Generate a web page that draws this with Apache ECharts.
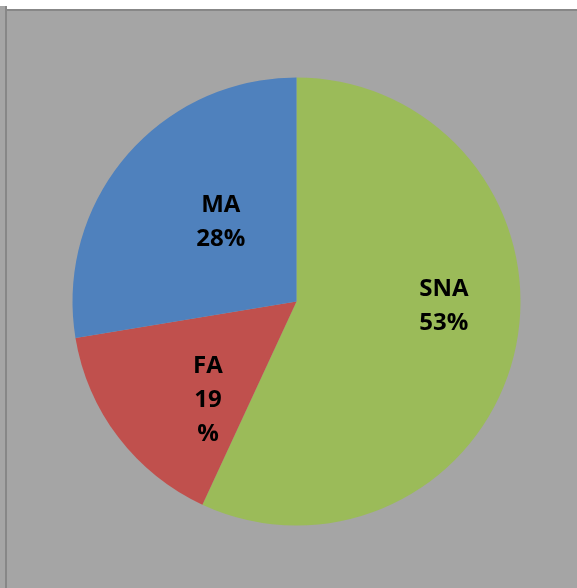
<!DOCTYPE html>
<html>
<head>
<meta charset="utf-8">
<script src="https://cdn.jsdelivr.net/npm/echarts@6/dist/echarts.min.js"></script>
<style>
  html, body { margin: 0; padding: 0; background: #fff; }
  #chart { width: 577px; height: 588px; }
</style>
</head>
<body>
<div id="chart"></div>
<script>
const categories = ["SNA", "FA", "MA"];
const sliceValues = [56.9, 15.5, 27.6];
const labelTexts = ["SNA\n53%", "FA\n19\n%", "MA\n28%"];
const colors = ["#9bbb59", "#c0504d", "#4f81bd"];
const labelOffsets = [[35, -20], [3, 29], [12, -5]];

const chart = echarts.init(document.getElementById("chart"), null, { renderer: "canvas" });

const option = {
  backgroundColor: "#a5a5a5",
  animation: false,
  graphic: [
    // white strip along the top, then the frame lines
    { type: "rect", shape: { x: 0, y: 0, width: 577, height: 6 }, style: { fill: "#fff" }, silent: true },
    { type: "rect", shape: { x: 7, y: 0, width: 570, height: 9 }, style: { fill: "#fff" }, silent: true },
    { type: "rect", shape: { x: 5, y: 6, width: 2, height: 582 }, style: { fill: "#878787" }, silent: true },
    { type: "rect", shape: { x: 5, y: 9, width: 572, height: 2 }, style: { fill: "#878787" }, silent: true },
  ],
  series: [
    {
      type: "pie",
      center: [296.5, 301.5],
      radius: 224,
      startAngle: 90,
      clockwise: true,
      avoidLabelOverlap: false,
      itemStyle: { borderWidth: 0 },
      emphasis: { disabled: true },
      label: {
        show: true,
        position: "inside",
        color: "#000",
        fontFamily: "Open Sans",
        fontWeight: "bold",
        fontSize: 24,
        lineHeight: 34,
        align: "center",
      },
      labelLine: { show: false },
      data: categories.map((name, i) => ({
        name,
        value: sliceValues[i],
        itemStyle: { color: colors[i] },
        label: { formatter: labelTexts[i], offset: labelOffsets[i] },
      })),
    },
  ],
};

chart.setOption(option);
</script>
</body>
</html>
